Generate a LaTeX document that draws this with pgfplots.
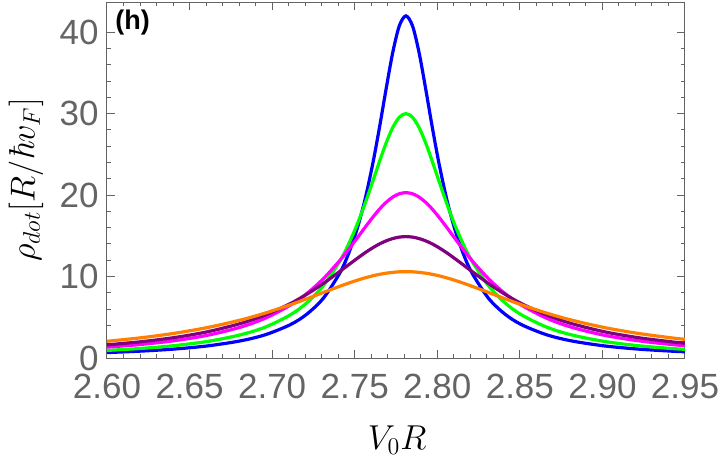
\documentclass[border=0pt]{standalone}
\usepackage{fontspec}
\setmainfont{Liberation Sans}
\newfontfamily\lmr{Latin Modern Roman}
\usepackage{pgfplots}
\pgfplotsset{compat=1.18}
\usepackage{pgfplotstable}
\definecolor{tickgray}{RGB}{100,100,100}
\definecolor{cB}{RGB}{0,0,255}
\definecolor{cG}{RGB}{0,255,0}
\definecolor{cM}{RGB}{255,0,255}
\definecolor{cP}{RGB}{128,0,128}
\definecolor{cO}{RGB}{255,128,0}
\pgfplotstableread{
x B G M P O
2.600 0.667 0.932 1.332 1.614 2.053
2.621 0.850 1.182 1.673 2.005 2.492
2.641 1.104 1.525 2.132 2.515 3.037
2.661 1.488 2.039 2.796 3.226 3.746
2.681 2.110 2.851 3.796 4.242 4.668
2.696 2.865 3.807 4.902 5.292 5.526
2.711 4.092 5.294 6.485 6.678 6.533
2.721 5.381 6.774 7.914 7.823 7.273
2.731 7.335 8.873 9.727 9.151 8.045
2.741 10.44 11.89 11.97 10.63 8.809
2.746 12.67 13.85 13.25 11.39 9.172
2.751 15.55 16.15 14.59 12.15 9.512
2.756 19.25 18.81 15.96 12.88 9.820
2.761 23.92 21.72 17.29 13.54 10.09
2.765 28.30 24.12 18.27 14.00 10.27
2.769 33.01 26.38 19.10 14.38 10.41
2.773 37.47 28.28 19.75 14.66 10.51
2.777 40.77 29.55 20.16 14.84 10.58
2.781 42.00 30.00 20.30 14.90 10.60
2.785 40.77 29.55 20.16 14.84 10.58
2.789 37.47 28.28 19.75 14.66 10.51
2.793 33.01 26.38 19.10 14.38 10.41
2.797 28.30 24.12 18.27 14.00 10.27
2.801 23.92 21.72 17.29 13.54 10.09
2.806 19.25 18.81 15.96 12.88 9.820
2.811 15.55 16.15 14.59 12.15 9.512
2.816 12.67 13.85 13.25 11.39 9.172
2.821 10.44 11.89 11.97 10.63 8.809
2.831 7.335 8.873 9.727 9.151 8.045
2.841 5.381 6.774 7.914 7.823 7.273
2.851 4.092 5.294 6.485 6.678 6.533
2.866 2.865 3.807 4.902 5.292 5.526
2.881 2.110 2.851 3.796 4.242 4.668
2.901 1.488 2.039 2.796 3.226 3.746
2.921 1.104 1.525 2.132 2.515 3.037
2.941 0.850 1.182 1.673 2.005 2.492
2.950 0.764 1.064 1.513 1.822 2.290
}\datatable
\begin{document}
\begin{tikzpicture}
\begin{axis}[
  at={(0,0)}, anchor=south west,
  scale only axis, width=289pt, height=178pt,
  xmin=2.6, xmax=2.95, ymin=0, ymax=43.7,
  xtick={2.6,2.65,2.7,2.75,2.8,2.85,2.9,2.95},
  ytick={0,10,20,30,40},
  minor x tick num=4, minor y tick num=4,
  tick align=inside,
  major tick length=3.8pt, minor tick length=2.2pt,
  axis line style={tickgray, line width=0.5pt},
  every tick/.style={tickgray, line width=0.5pt},
  /pgf/number format/assume math mode=true,
  x tick label style={/pgf/number format/.cd, fixed, fixed zerofill, precision=2, /tikz/.cd},
  tick label style={font=\fontsize{17.5}{20}\selectfont, text=tickgray, inner sep=0pt},
  xticklabel style={yshift=-8pt},
  yticklabel style={xshift=-4pt},
  xlabel={$V_0R$},
  ylabel={$\rho_{dot}[R/\mbox{\lmr\itshape ħ}v_F]$},
  label style={font=\fontsize{18}{21}\selectfont},
  xlabel style={at={(axis description cs:0.502,-0.23)}, anchor=center},
  ylabel style={at={(axis description cs:-0.14,0.5)}, anchor=center},
]
\addplot[cB, line width=1.6pt, smooth] table[x=x, y=B] {\datatable};
\addplot[cG, line width=1.6pt, smooth] table[x=x, y=G] {\datatable};
\addplot[cM, line width=1.6pt, smooth] table[x=x, y=M] {\datatable};
\addplot[cP, line width=1.6pt, smooth] table[x=x, y=P] {\datatable};
\addplot[cO, line width=1.6pt, smooth] table[x=x, y=O] {\datatable};
\node[anchor=north west, inner sep=0pt, font=\bfseries\fontsize{13.5}{15}\selectfont] at (rel axis cs:0,1) [xshift=4pt, yshift=-4pt] {(h)};
\end{axis}
\pgfresetboundingbox
\useasboundingbox (-53.5pt,-54.5pt) rectangle (306.5pt,179pt);
\end{tikzpicture}
\end{document}
